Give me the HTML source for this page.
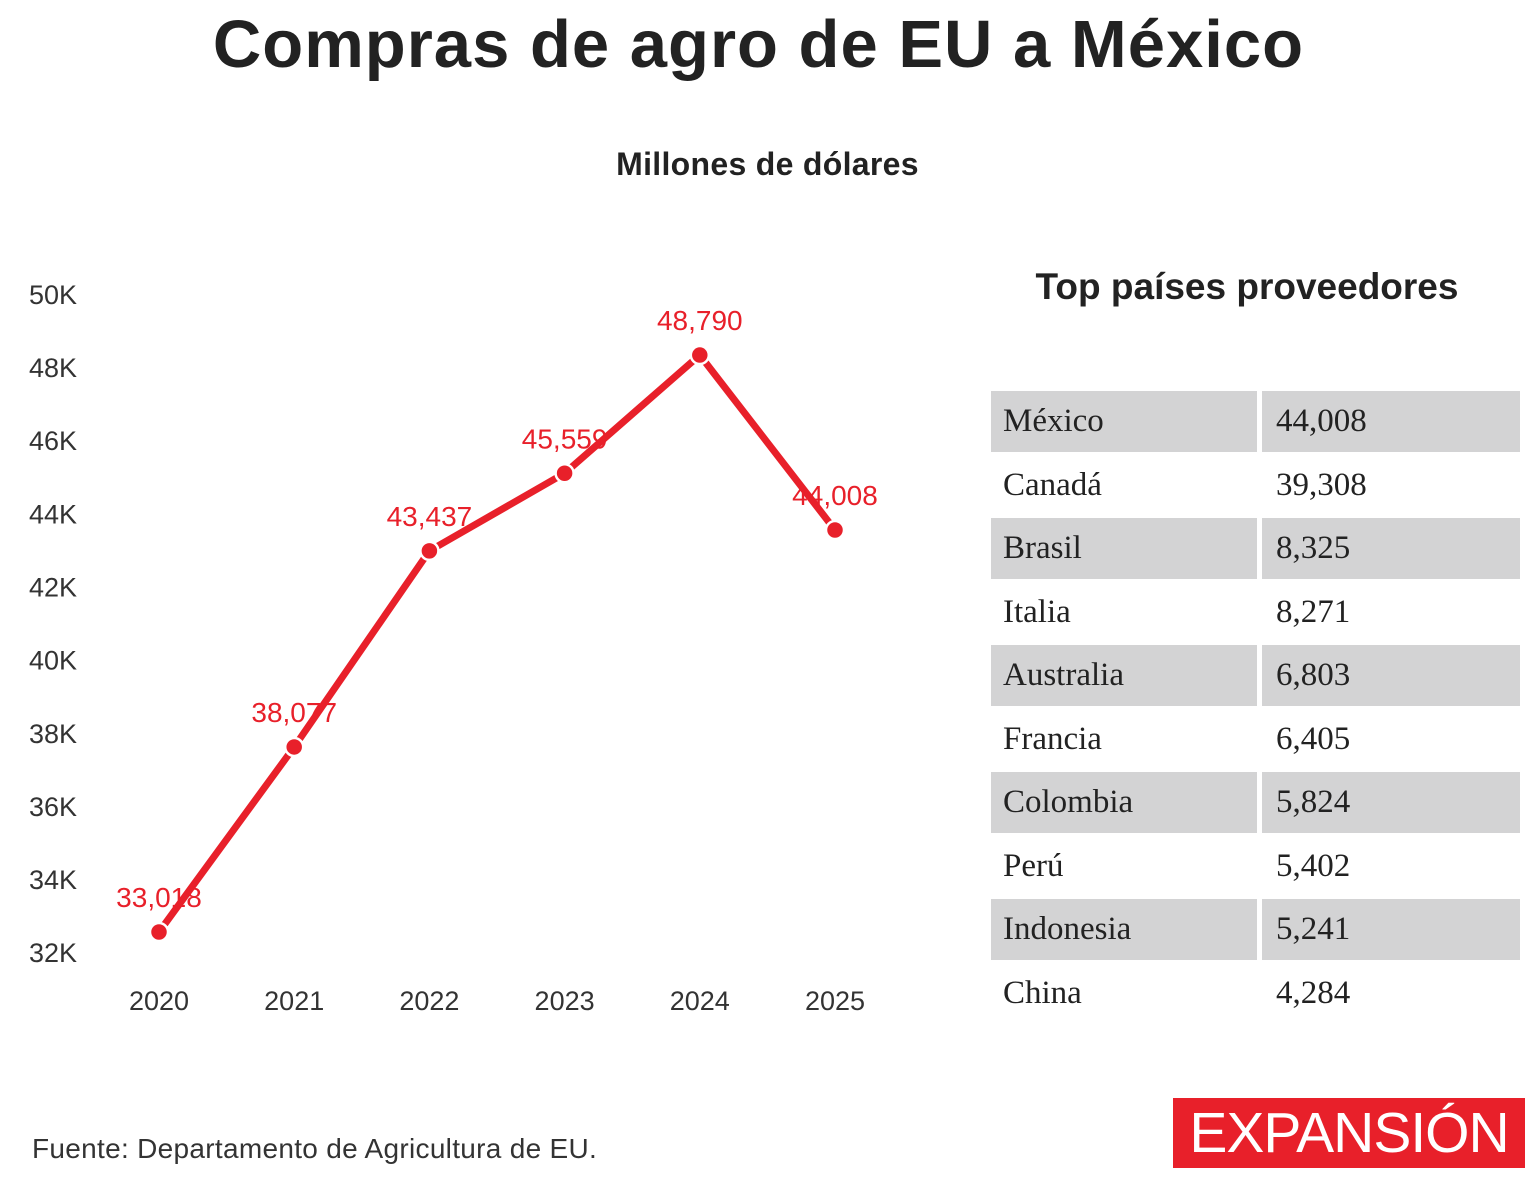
<!DOCTYPE html>
<html><head><meta charset="utf-8"><style>
body{margin:0;width:1539px;height:1181px;background:#fff;position:relative;overflow:hidden;font-family:"Liberation Sans",sans-serif;color:#222}
.a{position:absolute}
</style></head><body>
<div class="a" style="left:0;width:1517px;top:6px;text-align:center;font-size:67px;font-weight:bold;color:#222;letter-spacing:1px">Compras de agro de EU a México</div>
<div class="a" style="left:0;width:1535px;top:146px;text-align:center;font-size:32px;font-weight:bold;letter-spacing:0.3px">Millones de dólares</div>
<svg class="a" style="left:0;top:0" width="960" height="1060" id="chart"></svg>
<div class="a" style="left:991px;width:512px;top:266px;text-align:center;font-size:37px;font-weight:bold">Top países proveedores</div>
<div class="a" id="tbl" style="left:991px;top:390px;width:530px"></div>
<div class="a" style="left:32px;top:1133px;font-size:28px;color:#333;letter-spacing:0.3px">Fuente: Departamento de Agricultura de EU.</div>
<div class="a" style="left:1173px;top:1098px;width:352px;height:70px;background:#e8202a;color:#fff;font-size:57px;line-height:70px;text-align:center;letter-spacing:-1px">EXPANSIÓN</div>
<script>
const years=['2020','2021','2022','2023','2024','2025'];
const values=[33018,38077,43437,45559,48790,44008];
const valueLabels=['33,018','38,077','43,437','45,559','48,790','44,008'];
const ticks=[32000,34000,36000,38000,40000,42000,44000,46000,48000,50000];
const tickLabels=['32K','34K','36K','38K','40K','42K','44K','46K','48K','50K'];
const countries=['México','Canadá','Brasil','Italia','Australia','Francia','Colombia','Perú','Indonesia','China'];
const countryValues=['44,008','39,308','8,325','8,271','6,803','6,405','5,824','5,402','5,241','4,284'];
const NS='http://www.w3.org/2000/svg';
const svg=document.getElementById('chart');
const x=i=>159+i*135.2;
const y=v=>932-(v-33018)*0.03658;
function mk(t,a){const e=document.createElementNS(NS,t);for(const k in a)e.setAttribute(k,a[k]);svg.appendChild(e);return e;}
ticks.forEach((t,i)=>{const e=mk('text',{x:77,y:y(t)-17+10,'text-anchor':'end','font-size':27,fill:'#333'});e.textContent=tickLabels[i];

});
years.forEach((yr,i)=>{const e=mk('text',{x:x(i),y:1010,'text-anchor':'middle','font-size':27,fill:'#333'});e.textContent=yr;

});
const line=mk('polyline',{points:values.map((v,i)=>x(i)+','+y(v)).join(' '),fill:'none',stroke:'#e8202a','stroke-width':7,'stroke-linejoin':'round'});


values.forEach((v,i)=>{const c=mk('circle',{cx:x(i),cy:y(v),r:9,fill:'#e8202a',stroke:'#fff','stroke-width':2.5});


const t=mk('text',{x:x(i),y:y(v)-25,'text-anchor':'middle','font-size':28,fill:'#e8202a'});t.textContent=valueLabels[i];

});
const tbl=document.getElementById('tbl');
countries.forEach((c,i)=>{const r=document.createElement('div');


r.style.cssText='position:relative;height:63.5px;font-family:"Liberation Serif",serif;font-size:33px;color:#222';
const bg=i%2===0?'#d3d3d4':'transparent';
r.innerHTML='<div style="position:absolute;left:0;top:1px;width:266px;height:61px;background:'+bg+'"></div><div style="position:absolute;left:271px;top:1px;width:258px;height:61px;background:'+bg+'"></div><div style="position:absolute;left:12px;top:13px">'+c+'</div><div style="position:absolute;left:285px;top:13px">'+countryValues[i]+'</div>';
tbl.appendChild(r);});
</script>
</body></html>
